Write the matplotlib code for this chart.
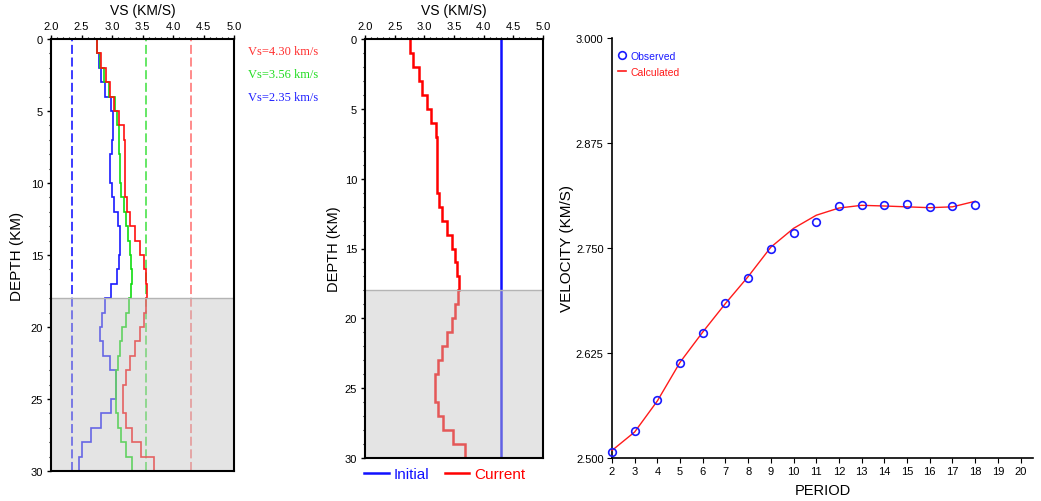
import numpy as np
import matplotlib
matplotlib.use("Agg")
import matplotlib.pyplot as plt
from matplotlib.lines import Line2D
from matplotlib.ticker import MultipleLocator, FormatStrFormatter

plt.rcParams["font.family"] = ["Liberation Sans", "DejaVu Sans"]

# ---- data -------------------------------------------------------------
layer_top = np.arange(0, 31)  # 1 km layers, 0-30 km

vs_current = [2.75, 2.815, 2.905, 2.965, 3.04, 3.12, 3.197, 3.22, 3.215, 3.21,
              3.208, 3.247, 3.292, 3.378, 3.461, 3.517, 3.556, 3.579, 3.562, 3.517,
              3.461, 3.376, 3.303, 3.230, 3.186, 3.186, 3.225, 3.320, 3.478, 3.683]
vs_green = [2.75, 2.798, 2.863, 2.951, 3.049, 3.087, 3.115, 3.120, 3.126, 3.137,
            3.155, 3.19, 3.235, 3.268, 3.29, 3.306, 3.322, 3.315, 3.276, 3.235,
            3.17, 3.13, 3.093, 3.066, 3.066, 3.072, 3.095, 3.145, 3.235, 3.33]
vs_blue = [2.75, 2.787, 2.82, 2.893, 2.978, 3.011, 3.011, 3.005, 2.973, 2.973,
           2.995, 3.038, 3.104, 3.131, 3.131, 3.115, 3.077, 2.981, 2.893, 2.84,
           2.809, 2.858, 2.967, 3.060, 3.060, 2.978, 2.825, 2.648, 2.503, 2.454]

vs_refs = [4.30, 3.56, 2.35]
ref_colors = ["#ff3030", "#22dd22", "#2020ff"]
ref_alpha = [0.6, 0.75, 0.95]

vs_initial = 4.30
shade_top, shade_bottom = 18, 30

period = [2, 3, 4, 5, 6, 7, 8, 9, 10, 11, 12, 13, 14, 15, 16, 17, 18]
vel_obs = [2.5068, 2.5325, 2.569, 2.6127, 2.649, 2.6845, 2.714, 2.749, 2.768,
           2.781, 2.800, 2.8008, 2.8016, 2.8024, 2.799, 2.800, 2.801]
vel_calc = [2.509, 2.531, 2.568, 2.614, 2.650, 2.684, 2.716, 2.751, 2.7734,
            2.789, 2.7976, 2.8008, 2.800, 2.799, 2.798, 2.799, 2.8056]

# ---- figure -----------------------------------------------------------
W, H = 1041, 502
fig = plt.figure(figsize=(W / 100, H / 100), dpi=100)


def px_axes(x0, y0, x1, y1):
    return fig.add_axes([x0 / W, 1 - y1 / H, (x1 - x0) / W, (y1 - y0) / H])


def profile_axes(ax, spine_w):
    ax.set_xlim(2.0, 5.0)
    ax.set_ylim(30, 0)
    ax.xaxis.tick_top()
    ax.xaxis.set_label_position("top")
    ax.xaxis.set_major_locator(MultipleLocator(0.5))
    ax.xaxis.set_minor_locator(MultipleLocator(0.1))
    ax.xaxis.set_major_formatter(FormatStrFormatter("%.1f"))
    ax.yaxis.set_major_locator(MultipleLocator(5))
    ax.yaxis.set_minor_locator(MultipleLocator(1))
    ax.tick_params(which="major", direction="out", length=3.2, width=1.0,
                   labelsize=8, pad=2.5)
    ax.tick_params(which="minor", direction="out", length=1.8, width=0.8)
    for s in ax.spines.values():
        s.set_linewidth(spine_w)
        s.set_zorder(5)
    ax.set_xlabel("VS (KM/S)", fontsize=10, labelpad=5)
    # lower crust shading laid over the profiles
    ax.axhspan(shade_top, shade_bottom, color="#c4c4c4", alpha=0.45, lw=0, zorder=4)
    ax.axhline(shade_top, color="#b4b4b4", lw=1.0, zorder=4)


# left: three models with reference velocities
ax1 = px_axes(51, 40, 234, 472)
profile_axes(ax1, 1.5)
ax1.set_ylabel("DEPTH (KM)", fontsize=11, labelpad=5)
for v, c, a in zip(vs_refs, ref_colors, ref_alpha):
    ax1.axvline(v, color=c, alpha=a, lw=1.3, dashes=(5, 2), zorder=2)
ax1.stairs(vs_blue, layer_top, orientation="horizontal", baseline=None,
           color="#1a1aff", lw=1.2, zorder=3)
ax1.stairs(vs_green, layer_top, orientation="horizontal", baseline=None,
           color="#11dd11", lw=1.2, zorder=3)
ax1.stairs(vs_current, layer_top, orientation="horizontal", baseline=None,
           color="#ff1010", lw=1.2, zorder=3)
for i, (v, c) in enumerate(zip(vs_refs, ref_colors)):
    ax1.text(1.0765, 0.972 - i * 0.0532, f"Vs={v:.2f} km/s", transform=ax1.transAxes,
             color=c, fontsize=9, family=["Liberation Serif", "DejaVu Serif"],
             ha="left", va="center")

# middle: initial vs current model
ax2 = px_axes(365, 40, 543, 459)
profile_axes(ax2, 1.5)
ax2.set_ylabel("DEPTH (KM)", fontsize=10.5, labelpad=3)
ax2.axvline(vs_initial, color="#1010ff", lw=1.8, zorder=3)
ax2.stairs(vs_current, layer_top, orientation="horizontal", baseline=None,
           color="#ff0000", lw=1.8, zorder=3)
leg2 = ax2.legend(handles=[Line2D([], [], color="#1010ff", lw=1.8),
                           Line2D([], [], color="#ff0000", lw=1.8)],
                  labels=["Initial", "Current"], loc="upper left",
                  bbox_to_anchor=(-0.005, -0.022), ncol=2, frameon=False,
                  fontsize=11, handlelength=1.6, handletextpad=0.35,
                  columnspacing=1.0, borderaxespad=0, borderpad=0,
                  labelcolor=["#1010ff", "#ff0000"])

# right: dispersion curve
ax3 = px_axes(612, 39, 1033, 459)
ax3.set_xlim(2, 20.55)
ax3.set_ylim(2.5, 3.0)
ax3.xaxis.set_major_locator(MultipleLocator(1))
ax3.yaxis.set_major_locator(MultipleLocator(0.125))
ax3.yaxis.set_major_formatter(FormatStrFormatter("%.3f"))
ax3.spines["top"].set_visible(False)
ax3.spines["right"].set_visible(False)
for s in ("left", "bottom"):
    ax3.spines[s].set_linewidth(1.2)
ax3.tick_params(direction="out", length=3.5, width=0.8, labelsize=8, pad=2.5)
ax3.plot(period, vel_calc, color="#ff1a1a", lw=1.0, zorder=3, clip_on=False)
ax3.plot(period, vel_obs, ls="none", marker="o", ms=5.5, mfc="none",
         mec="#1a1aff", mew=1.2, zorder=4, clip_on=False)
ax3.set_xlabel("PERIOD", fontsize=10.5, labelpad=5)
ax3.set_ylabel("VELOCITY (KM/S)", fontsize=11, labelpad=1)
ax3.legend(handles=[Line2D([], [], ls="none", marker="o", ms=5.5, mfc="none",
                           mec="#1a1aff", mew=1.2),
                    Line2D([], [], color="#ff1a1a", lw=1.2)],
           labels=["Observed", "Calculated"], loc="upper left",
           bbox_to_anchor=(0.014, 0.969), frameon=False, fontsize=7.5,
           handlelength=0.8, handletextpad=0.4, labelspacing=0.55,
           borderaxespad=0, borderpad=0, labelcolor=["#1a1aff", "#ff1a1a"])

fig.savefig("out.png", dpi=100)
